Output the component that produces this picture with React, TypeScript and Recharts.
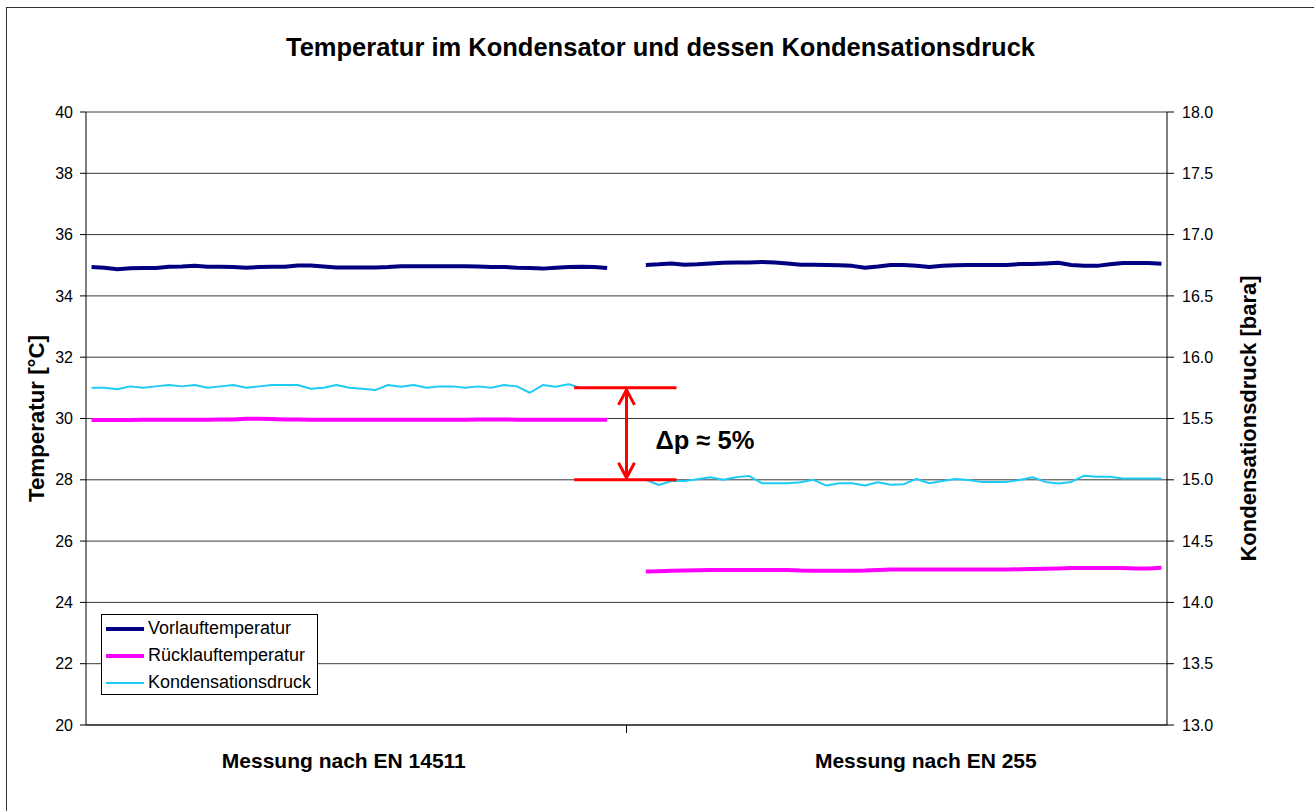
import React from "react";
import {
  LineChart,
  Line,
  XAxis,
  YAxis,
  CartesianGrid,
  ReferenceLine,
} from "recharts";

const FONT = "'Liberation Sans', Arial, Helvetica, sans-serif";

const title = "Temperatur im Kondensator und dessen Kondensationsdruck";
const categories = ["Messung nach EN 14511", "Messung nach EN 255"];
const categoryLabelPositions = [19.57, 64.72];
const categoryDividers = [41.5];
const leftTicks = [20, 22, 24, 26, 28, 30, 32, 34, 36, 38, 40];
const rightTicks = [13, 13.5, 14, 14.5, 15, 15.5, 16, 16.5, 17, 17.5, 18];

const leftStart = 0;
const rightStart = 43;
const pointCount = 84;

const vorlaufLeft = [
  34.94, 34.92, 34.87, 34.9, 34.91, 34.91, 34.95, 34.96, 34.98, 34.95, 34.95,
  34.94, 34.92, 34.94, 34.95, 34.95, 34.99, 34.99, 34.96, 34.93, 34.93, 34.93,
  34.93, 34.94, 34.97, 34.97, 34.97, 34.97, 34.97, 34.97, 34.96, 34.94, 34.94,
  34.92, 34.91, 34.89, 34.92, 34.94, 34.95, 34.94, 34.91,
];
const vorlaufRight = [
  35.01, 35.03, 35.06, 35.02, 35.03, 35.06, 35.08, 35.09, 35.09, 35.11, 35.09,
  35.06, 35.02, 35.02, 35.01, 35.0, 34.98, 34.92, 34.96, 35.01, 35.01, 34.98,
  34.94, 34.98, 35.0, 35.01, 35.01, 35.01, 35.01, 35.04, 35.04, 35.06, 35.08,
  35.01, 34.98, 34.98, 35.03, 35.07, 35.07, 35.07, 35.05,
];
const ruecklaufLeft = [
  29.95, 29.95, 29.95, 29.95, 29.96, 29.96, 29.96, 29.96, 29.96, 29.96, 29.97,
  29.97, 29.99, 29.99, 29.98, 29.97, 29.97, 29.96, 29.96, 29.96, 29.96, 29.96,
  29.96, 29.96, 29.96, 29.96, 29.96, 29.96, 29.96, 29.96, 29.97, 29.97, 29.97,
  29.96, 29.96, 29.96, 29.96, 29.96, 29.96, 29.96, 29.96,
];
const ruecklaufRight = [
  25.01, 25.02, 25.03, 25.04, 25.05, 25.06, 25.06, 25.06, 25.06, 25.06, 25.06,
  25.06, 25.04, 25.03, 25.03, 25.03, 25.03, 25.04, 25.06, 25.07, 25.07, 25.07,
  25.07, 25.07, 25.07, 25.07, 25.07, 25.07, 25.07, 25.08, 25.09, 25.1, 25.11,
  25.12, 25.12, 25.12, 25.12, 25.12, 25.11, 25.11, 25.13,
];
const druckLeft = [
  15.751, 15.751, 15.738, 15.762, 15.751, 15.762, 15.773, 15.762, 15.773,
  15.751, 15.762, 15.773, 15.751, 15.762, 15.773, 15.773, 15.773, 15.743,
  15.751, 15.773, 15.751, 15.743, 15.732, 15.773, 15.759, 15.773, 15.751,
  15.762, 15.762, 15.751, 15.762, 15.751, 15.773, 15.762, 15.71, 15.773,
  15.759, 15.779, 15.75,
];
const druckRight = [
  15.0, 14.958, 14.99, 14.99, 15.005, 15.021, 15.0, 15.021, 15.032, 14.972,
  14.972, 14.972, 14.98, 15.0, 14.953, 14.972, 14.972, 14.953, 14.98, 14.96,
  14.964, 15.007, 14.972, 14.99, 15.007, 14.999, 14.983, 14.983, 14.983,
  14.999, 15.021, 14.983, 14.969, 14.983, 15.034, 15.024, 15.024, 15.01, 15.01,
  15.01, 15.01,
];

// annotation (Δp) in data units: temperature levels and x index range
const deltaTop = 31;
const deltaBottom = 28;
const deltaFrom = 37.44;
const deltaTo = 45.38;
const deltaArrowAt = 41.5;
const deltaText = "Δp ≈ 5%";

const series = [
  { key: "vorlauf", name: "Vorlauftemperatur", color: "#000080", width: 4, axis: "left" },
  { key: "ruecklauf", name: "Rücklauftemperatur", color: "#FF00FF", width: 4, axis: "left" },
  { key: "druck", name: "Kondensationsdruck", color: "#1ECBF5", width: 2, axis: "right" },
];

function pick(arr: number[], start: number, i: number): number | null {
  const k = i - start;
  return k >= 0 && k < arr.length ? arr[k] : null;
}

const data = Array.from({ length: pointCount }, (_, i) => ({
  i,
  vorlauf: pick(vorlaufLeft, leftStart, i) ?? pick(vorlaufRight, rightStart, i),
  ruecklauf: pick(ruecklaufLeft, leftStart, i) ?? pick(ruecklaufRight, rightStart, i),
  druck: pick(druckLeft, leftStart, i) ?? pick(druckRight, rightStart, i),
}));

const CategoryTick = (props: any) => {
  const { x, y, payload } = props;
  const v = payload.value;
  if (categoryDividers.includes(v)) {
    return <line x1={x} x2={x} y1={y} y2={y + 8} stroke="#000" strokeWidth={1} />;
  }
  const idx = categoryLabelPositions.indexOf(v);
  return (
    <text
      x={x}
      y={y + 43}
      textAnchor="middle"
      fontFamily={FONT}
      fontSize={21}
      fontWeight="bold"
      fill="#000"
    >
      {categories[idx]}
    </text>
  );
};

const ArrowShape = (props: any) => {
  const { x1, y1, x2, y2 } = props;
  const top = Math.min(y1, y2) + 2;
  const bot = Math.max(y1, y2) - 2;
  const x = x1;
  const mid = (top + bot) / 2;
  return (
    <g>
      <line x1={x} x2={x} y1={top} y2={bot} stroke="#FF0000" strokeWidth={3} />
      <polyline
        points={`${x - 8},${top + 15} ${x},${top} ${x + 8},${top + 15}`}
        fill="none"
        stroke="#FF0000"
        strokeWidth={3}
      />
      <polyline
        points={`${x - 8},${bot - 15} ${x},${bot} ${x + 8},${bot - 15}`}
        fill="none"
        stroke="#FF0000"
        strokeWidth={3}
      />
      <text
        x={x + 29}
        y={mid + 15}
        fontFamily={FONT}
        fontSize={25.5}
        fontWeight="bold"
        fill="#000"
      >
        {deltaText}
      </text>
    </g>
  );
};

export default function App() {
  return (
    <div
      style={{
        position: "absolute",
        left: 6,
        top: 7,
        width: 1308,
        height: 804,
        borderLeft: "1px solid #333",
        borderTop: "1px solid #333",
        background: "#fff",
        fontFamily: FONT,
      }}
    >
      <div
        style={{
          position: "absolute",
          left: 0,
          top: 27,
          width: 1307,
          textAlign: "center",
          fontSize: 25.5,
          lineHeight: "25px",
          fontWeight: "bold",
          color: "#000",
          whiteSpace: "nowrap",
        }}
      >
        {title}
      </div>
      <LineChart
        width={1307}
        height={803}
        data={data}
        margin={{ top: 104, right: 0, bottom: 0, left: 0 }}
      >
        <CartesianGrid
          yAxisId="left"
          vertical={false}
          horizontal={true}
          stroke="#3a3a3a"
          strokeWidth={1}
        />
        <XAxis
          dataKey="i"
          type="number"
          domain={[-0.43, 83.43]}
          ticks={[...categoryLabelPositions, ...categoryDividers].sort((a, b) => a - b)}
          interval={0}
          tickLine={false}
          tickSize={0}
          tickMargin={0}
          axisLine={{ stroke: "#000", strokeWidth: 1 }}
          tick={<CategoryTick />}
          height={86}
          allowDataOverflow
        />
        <YAxis
          yAxisId="left"
          orientation="left"
          domain={[20, 40]}
          ticks={leftTicks}
          interval={0}
          width={79}
          tickSize={6}
          tickMargin={7}
          axisLine={{ stroke: "#000", strokeWidth: 1 }}
          tickLine={{ stroke: "#000", strokeWidth: 1 }}
          tick={{ fontSize: 16, fill: "#000", fontFamily: FONT }}
          allowDataOverflow
          label={{
            value: "Temperatur [°C]",
            angle: -90,
            position: "center",
            dx: -10.5,
            style: { fontSize: 22.3, fontWeight: "bold", fill: "#000", fontFamily: FONT },
          }}
        />
        <YAxis
          yAxisId="right"
          orientation="right"
          domain={[13, 18]}
          ticks={rightTicks}
          interval={0}
          width={147}
          tickSize={7}
          tickMargin={8}
          tickFormatter={(v: number) => v.toFixed(1)}
          axisLine={{ stroke: "#000", strokeWidth: 1 }}
          tickLine={{ stroke: "#000", strokeWidth: 1 }}
          tick={{ fontSize: 16, fill: "#000", fontFamily: FONT }}
          allowDataOverflow
          label={{
            value: "Kondensationsdruck [bara]",
            angle: -90,
            position: "center",
            dx: 7.5,
            style: { fontSize: 22, fontWeight: "bold", fill: "#000", fontFamily: FONT },
          }}
        />
        {series.map((s) => (
          <Line
            key={s.key}
            yAxisId={s.axis}
            type="linear"
            dataKey={s.key}
            name={s.name}
            stroke={s.color}
            strokeWidth={s.width}
            strokeLinejoin="round"
            dot={false}
            activeDot={false}
            connectNulls={false}
            isAnimationActive={false}
          />
        ))}
        <ReferenceLine
          yAxisId="left"
          segment={[
            { x: deltaFrom, y: deltaTop },
            { x: deltaTo, y: deltaTop },
          ]}
          stroke="#FF0000"
          strokeWidth={3}
        />
        <ReferenceLine
          yAxisId="left"
          segment={[
            { x: deltaFrom, y: deltaBottom },
            { x: deltaTo, y: deltaBottom },
          ]}
          stroke="#FF0000"
          strokeWidth={3}
        />
        <ReferenceLine
          yAxisId="left"
          segment={[
            { x: deltaArrowAt, y: deltaTop },
            { x: deltaArrowAt, y: deltaBottom },
          ]}
          stroke="#FF0000"
          strokeWidth={3}
          shape={(p: any) => <ArrowShape {...p} />}
        />
      </LineChart>
      <div
        style={{
          position: "absolute",
          left: 94,
          top: 606,
          width: 215,
          height: 79,
          border: "1px solid #000",
          background: "#fff",
        }}
      >
        {series.map((s) => (
          <div
            key={s.key}
            style={{
              height: 27,
              display: "flex",
              alignItems: "center",
              fontSize: 18,
              color: "#000",
              whiteSpace: "nowrap",
            }}
          >
            <div
              style={{
                width: 38,
                height: s.width,
                background: s.color,
                marginLeft: 4,
                marginRight: 4,
                flexShrink: 0,
              }}
            />
            <span>{s.name}</span>
          </div>
        ))}
      </div>
    </div>
  );
}
